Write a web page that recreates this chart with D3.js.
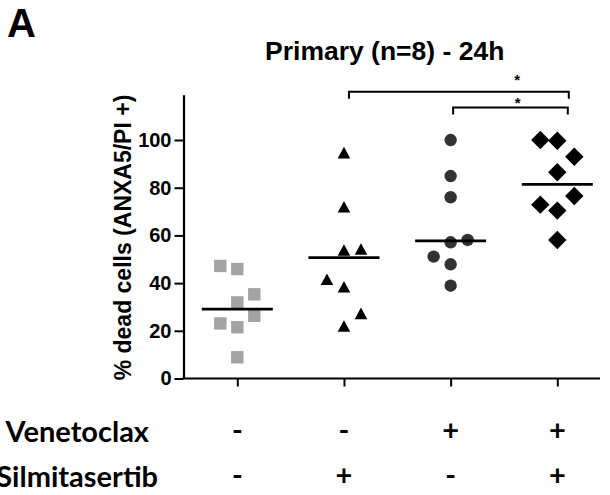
<!DOCTYPE html>
<html>
<head>
<meta charset="utf-8">
<script src="https://cdn.jsdelivr.net/npm/d3@7"></script>
<style>
  html, body { margin: 0; padding: 0; background: #fff; }
  svg { display: block; }
</style>
</head>
<body>
<svg id="chart" width="610" height="495"></svg>
<script>
// Treatment groups and the +/- design rows shown under the axis
const groups = ["untreated", "silmitasertib", "venetoclax", "combination"];
const venetoclaxRow = ["-", "-", "+", "+"];
const silmitasertibRow = ["-", "+", "-", "+"];

// % dead cells (ANXA5/PI+) per patient sample, 24h
const untreatedValues = [47.2, 45.9, 35.3, 31.9, 26.3, 23.1, 21.5, 8.9];
const silmitasertibValues = [94.7, 72.0, 53.9, 54.3, 41.6, 38.5, 27.3, 22.0];
const venetoclaxValues = [100, 84.9, 76.0, 57.1, 58.1, 51.1, 47.9, 38.9];
const combinationValues = [100, 99.7, 93.0, 86.5, 76.5, 72.9, 70.4, 58.1];

// column-scatter lane of each point (-1 left, 0 centre, 1 right)
const untreatedLane = [-1, 0, 1, 0, 1, -1, 0, 0];
const silmitasertibLane = [0, 0, 0, 1, -1, 0, 1, 0];
const venetoclaxLane = [0, 0, 0, 0, 1, -1, 0, 0];
const combinationLane = [-1, 0, 1, 0, 1, -1, 0, 0];

// horizontal line drawn through each column
const centerLines = [29.1, 50.7, 57.7, 81.4];

// y axis ticks
const yTicks = [0, 20, 40, 60, 80, 100];

// significance brackets between columns
const comparisons = [
  { from: "silmitasertib", to: "combination", label: "*", level: 0 },
  { from: "venetoclax", to: "combination", label: "*", level: 1 }
];

const series = [
  { group: groups[0], values: untreatedValues, lanes: untreatedLane, shape: "square" },
  { group: groups[1], values: silmitasertibValues, lanes: silmitasertibLane, shape: "triangle" },
  { group: groups[2], values: venetoclaxValues, lanes: venetoclaxLane, shape: "circle" },
  { group: groups[3], values: combinationValues, lanes: combinationLane, shape: "diamond" }
];

const svg = d3.select("#chart");
const bold = "'Liberation Sans', Arial, Helvetica, sans-serif";
const labelFont = "Lato, 'Open Sans', sans-serif";

const x = d3.scalePoint().domain(groups).range([237.3, 557.3]);
const y = d3.scaleLinear().domain([0, 119]).range([378.5, 94.7]);
const laneWidth = 17;
const axisLeftX = 183.5;
const axisRightX = 600;

// panel letter and title
svg.append("text")
  .attr("x", 7).attr("y", 37)
  .attr("font-family", bold).attr("font-weight", "bold").attr("font-size", 40)
  .text("A");

svg.append("text")
  .attr("x", 384.7).attr("y", 60)
  .attr("text-anchor", "middle")
  .attr("font-family", bold).attr("font-weight", "bold").attr("font-size", 26.5)
  .text("Primary (n=8) - 24h");

// y axis
const yAxis = svg.append("g")
  .attr("transform", `translate(${axisLeftX},0)`)
  .call(d3.axisLeft(y).tickValues(yTicks).tickSize(9).tickSizeOuter(0).tickPadding(3));
yAxis.select(".domain").attr("stroke", "#000").attr("stroke-width", 2.2);
yAxis.selectAll(".tick line").attr("stroke", "#000").attr("stroke-width", 2);
yAxis.selectAll(".tick text")
  .attr("font-family", bold).attr("font-weight", "bold").attr("font-size", 20)
  .attr("fill", "#000");

// x axis: full-width baseline plus ticks under each column
svg.append("line")
  .attr("x1", axisLeftX - 1).attr("x2", axisRightX)
  .attr("y1", y(0)).attr("y2", y(0))
  .attr("stroke", "#000").attr("stroke-width", 2.2);
const xAxis = svg.append("g")
  .attr("transform", `translate(0,${y(0)})`)
  .call(d3.axisBottom(x).tickSize(8).tickSizeOuter(0).tickFormat(""));
xAxis.select(".domain").remove();
xAxis.selectAll(".tick line").attr("stroke", "#000").attr("stroke-width", 2);

// y axis title
svg.append("text")
  .attr("transform", `translate(131,237.5) rotate(-90)`)
  .attr("text-anchor", "middle")
  .attr("font-family", bold).attr("font-weight", "bold").attr("font-size", 23)
  .text("% dead cells (ANXA5/PI +)");

// marker shapes
const shapes = {
  square: { path: "M-6.2,-6.2H6.2V6.2H-6.2Z", fill: "#a3a3a7" },
  triangle: { path: "M0,-5.8L6.3,5.8H-6.3Z", fill: "#000" },
  circle: { path: d3.symbol(d3.symbolCircle, Math.PI * 6.2 * 6.2)(), fill: "#333" },
  diamond: { path: "M0,-9.2L9.2,0L0,9.2L-9.2,0Z", fill: "#000" }
};

series.forEach(s => {
  const pts = s.values.map((v, i) => ({ v, lane: s.lanes[i] }));
  svg.append("g").selectAll("path")
    .data(pts)
    .join("path")
    .attr("d", shapes[s.shape].path)
    .attr("fill", shapes[s.shape].fill)
    .attr("transform", d => `translate(${x(s.group) + d.lane * laneWidth},${y(d.v)})`);
});

// centre lines
svg.append("g").selectAll("line")
  .data(groups)
  .join("line")
  .attr("x1", g => x(g) - 35.5)
  .attr("x2", g => x(g) + 35.5)
  .attr("y1", (g, i) => y(centerLines[i]))
  .attr("y2", (g, i) => y(centerLines[i]))
  .attr("stroke", "#000").attr("stroke-width", 2.7);

// significance brackets
const bracketTop = [91.7, 107.5];
comparisons.forEach(c => {
  const x1 = x(c.from) + (c.level === 0 ? 5 : 2.5);
  const x2 = x(c.to) + (c.level === 0 ? 11.5 : 10.5);
  const top = bracketTop[c.level];
  svg.append("path")
    .attr("d", `M${x1},${top + 7}V${top}H${x2}V${top + 7}`)
    .attr("fill", "none").attr("stroke", "#000").attr("stroke-width", 2);
  svg.append("text")
    .attr("x", (x(c.from) + x(c.to)) / 2 + (c.level === 0 ? 66.5 : 13.7))
    .attr("y", top - (c.level === 0 ? 7 : 0))
    .attr("text-anchor", "middle")
    .attr("font-family", bold).attr("font-weight", "bold").attr("font-size", 15)
    .text(c.label);
});

// treatment design rows
const rows = [
  { name: "Venetoclax", signs: venetoclaxRow, baseline: 441.7, nameRight: 149 },
  { name: "Silmitasertib", signs: silmitasertibRow, baseline: 487, nameRight: 158 }
];
rows.forEach(r => {
  svg.append("text")
    .attr("x", r.nameRight).attr("y", r.baseline)
    .attr("text-anchor", "end")
    .attr("font-family", labelFont).attr("font-weight", "bold").attr("font-size", 29)
    .text(r.name);
  svg.append("g").selectAll("text")
    .data(groups)
    .join("text")
    .attr("x", g => x(g))
    .attr("y", r.baseline - 2)
    .attr("text-anchor", "middle")
    .attr("font-family", labelFont).attr("font-weight", "bold").attr("font-size", 29)
    .text((g, i) => r.signs[i]);
});
</script>
</body>
</html>
